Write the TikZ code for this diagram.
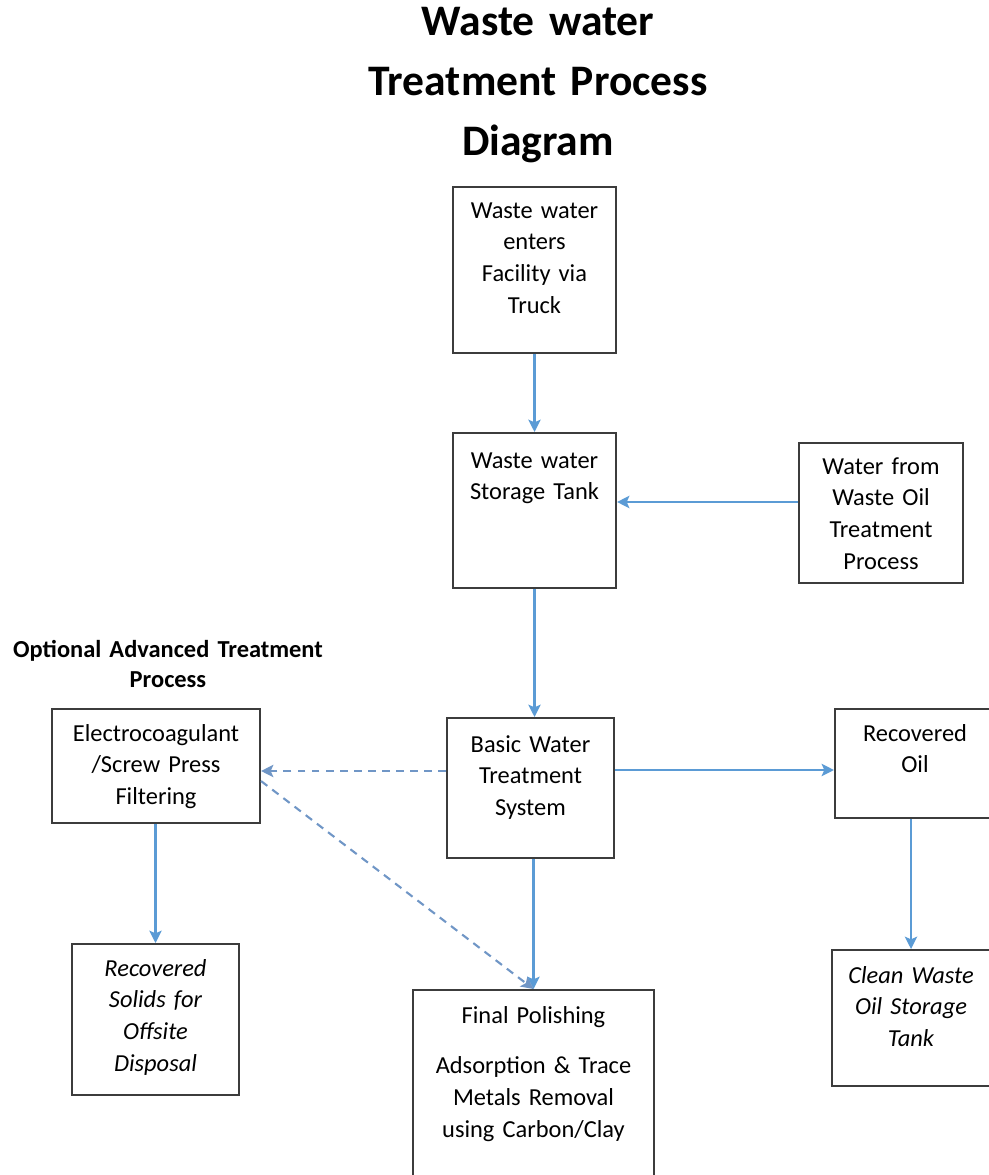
\documentclass[tikz,border=0pt]{standalone}
\usepackage{fontspec}
\setmainfont{Carlito}
\usepackage{tikz}
\usetikzlibrary{arrows.meta}
\definecolor{flowblue}{RGB}{91,155,213}
\definecolor{dashblue}{RGB}{112,150,198}
\definecolor{boxgray}{RGB}{60,60,60}

\begin{document}
\begin{tikzpicture}[x=0.02cm,y=-0.02cm,
   >={Stealth[length=7pt,width=7pt,inset=1.5pt]},
   title text/.style={font=\fontsize{24.8}{34}\selectfont\bfseries,align=center,text width=9cm,anchor=base},
   stage box/.style={draw=boxgray,line width=1.2pt,anchor=north,inner sep=0pt,align=center,
      font=\fontsize{13.9}{18.1}\selectfont},
   end box/.style={stage box,font=\fontsize{13.9}{18.1}\selectfont\itshape},
   flow/.style={->,draw=flowblue,line width=1.3pt},
   option flow/.style={->,draw=dashblue,line width=1.2pt,dash pattern=on 4.5pt off 3.5pt}]

  \useasboundingbox (0,0) rectangle (989,1175);

  \node[title text] (title) at (538,36) {Waste water\\Treatment Process\\Diagram};

  \node[stage box,text width=3.26cm,text height=0.62cm,text depth=2.70cm] (truck) at (534.5,186)
     {Waste water\\enters\\Facility via\\Truck};
  \node[stage box,text width=3.26cm,text height=0.70cm,text depth=2.40cm] (tank) at (534.5,432)
     {Waste water\\Storage Tank};
  \node[stage box,text width=3.28cm,text height=0.62cm,text depth=2.18cm] (oilwater) at (881,442)
     {Water from\\Waste Oil\\Treatment\\Process};
  \node[stage box,text width=3.34cm,text height=0.68cm,text depth=2.12cm] (basic) at (530.5,717)
     {Basic Water\\Treatment\\System};
  \node[stage box,text width=3.2cm,text height=0.64cm,text depth=1.54cm] (oil) at (915,708)
     {Recovered\\Oil};

  \node[font=\fontsize{13.9}{17.6}\selectfont\bfseries,align=center,text width=6.5cm,anchor=base] (optional) at (168,657)
     {Optional Advanced Treatment\\Process};
  \node[stage box,text width=4.16cm,text height=0.64cm,text depth=1.64cm] (electro) at (156,708)
     {Electrocoagulant\\/Screw Press\\Filtering};

  \node[end box,text width=3.34cm,text height=0.64cm,text depth=2.38cm] (solids) at (155.5,943)
     {Recovered\\Solids for\\Offsite\\Disposal};
  \node[stage box,text width=4.82cm,text height=0.66cm,text depth=3.56cm] (polish) at (533.5,989)
     {Final Polishing\\[0.38cm]Adsorption \& Trace\\Metals Removal\\using Carbon/Clay};
  \node[end box,text width=3.16cm,text height=0.66cm,text depth=2.06cm] (cleanoil) at (911,949)
     {Clean Waste\\Oil Storage\\Tank};

  % main line
  \draw[flow] (truck) -- (tank);
  \draw[flow] (oilwater.west |- 0,502) -- (tank.east |- 0,502);
  \draw[flow] (tank.south) -- (tank.south |- basic.north);
  \draw[flow] (basic.east |- 0,770) -- (oil.west |- 0,770);
  \draw[flow] (basic.south -| polish.north) -- (polish.north);
  \draw[flow] (oil.south -| cleanoil.north) -- (cleanoil.north);
  \draw[flow] (electro.south -| solids.north) -- (solids.north);

  % optional branch
  \draw[option flow] (basic.west |- 0,771) -- (electro.east |- 0,771);
  \draw[option flow] ([yshift=-0.3cm]electro.east) -- (polish.north);
\end{tikzpicture}
\end{document}
